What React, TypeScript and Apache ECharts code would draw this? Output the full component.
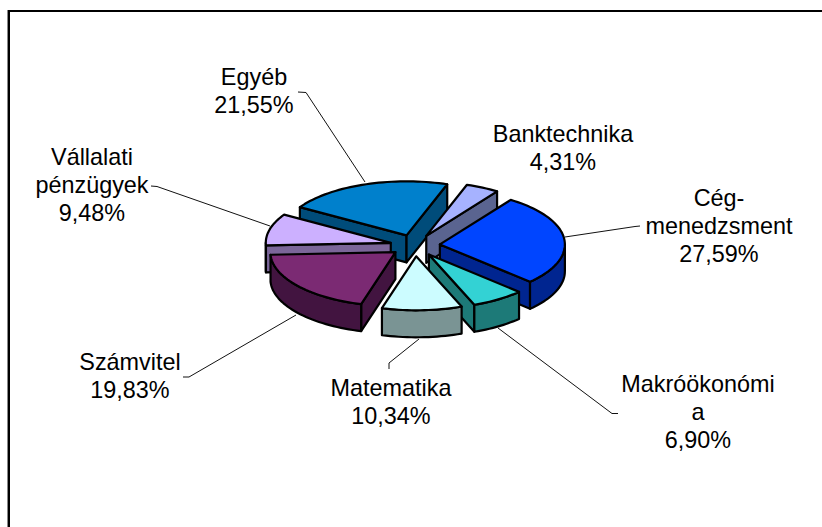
import React, { useEffect, useRef } from "react";
import * as echarts from "echarts";

const categories = ["Banktechnika", "Cég-\nmenedzsment", "Makróökonómi\na", "Matematika", "Számvitel", "Vállalati\npénzügyek", "Egyéb"];
const shares = [4.31, 27.59, 6.9, 10.34, 19.83, 9.48, 21.55];
const topColors = ["#A6B2FF", "#0045FF", "#33D2D4", "#CCFCFF", "#7B2A73", "#CCB0FF", "#0080CC"];
const sideColors = ["#5A6490", "#002590", "#1D7A78", "#7A9494", "#421440", "#7B6699", "#004C7A"];
const paintOrder = [6, 0, 5, 1, 4, 2, 3];
const labelCenters = [[563, 148], [719, 226], [698, 412], [391, 402], [130, 376], [92, 185], [254, 91]];
const leaders = [
  [],
  [[640, 226], [635, 226.5], [565, 237]],
  [[618, 413.5], [612, 413.5], [498, 328]],
  [[389, 369], [389, 363], [419, 339]],
  [[183, 377], [189, 377], [296, 315]],
  [[151, 186], [157, 186.5], [270, 226]],
  [[298, 92], [306, 92.5], [365, 182]],
];

const START_DEG = 19;
const CX = 415;
const CY = 245.5;
const RX = 125;
const RY = 54;
const DEPTH = 27;
const EXPLODE = 25;
const rad = (d: number) => (d * Math.PI) / 180;
const total = shares.reduce((a, b) => a + b, 0);

function sliceAngles(i: number) {
  let a = START_DEG;
  for (let k = 0; k < i; k++) a += (shares[k] / total) * 360;
  return [a, a + (shares[i] / total) * 360];
}

function renderItem(_params: any, api: any) {
  const i = api.value(0) as number;
  const [a0, a1] = sliceAngles(i);
  const mid = (a0 + a1) / 2;
  const ax = CX + EXPLODE * Math.sin(rad(mid));
  const ay = CY - (EXPLODE * RY * Math.cos(rad(mid))) / RX;
  const pt = (deg: number, dy = 0) => [ax + RX * Math.sin(rad(deg)), ay - RY * Math.cos(rad(deg)) + dy];
  const arc = (from: number, to: number, dy = 0) => {
    const n = Math.max(2, Math.ceil(Math.abs(to - from) / 2));
    const out: number[][] = [];
    for (let k = 0; k <= n; k++) out.push(pt(from + ((to - from) * k) / n, dy));
    return out;
  };
  const edge = { stroke: "#000", lineWidth: 2.2, lineJoin: "round" };
  const side = sideColors[i];
  const children: any[] = [];
  const wall = (deg: number) => ({
    type: "polygon",
    shape: { points: [[ax, ay], pt(deg), pt(deg, DEPTH), [ax, ay + DEPTH]] },
    style: { fill: side, ...edge },
  });
  if (Math.sin(rad(a0)) < 0) children.push(wall(a0));
  if (Math.sin(rad(a1)) > 0) children.push(wall(a1));
  const f0 = Math.max(a0, 90);
  const f1 = Math.min(a1, 270);
  if (f1 > f0) {
    children.push({
      type: "polygon",
      shape: { points: [...arc(f0, f1), ...arc(f1, f0, DEPTH)] },
      style: { fill: side, ...edge },
    });
  }
  children.push({
    type: "polygon",
    shape: { points: [[ax, ay], ...arc(a0, a1)] },
    style: { fill: topColors[i], ...edge },
  });
  return { type: "group", children };
}

function renderLabel(_params: any, api: any) {
  const i = api.value(0) as number;
  const children: any[] = [];
  if (leaders[i].length) {
    children.push({
      type: "polyline",
      shape: { points: leaders[i] },
      style: { fill: "none", stroke: "#111", lineWidth: 1 },
    });
  }
  const pct = shares[i].toFixed(2).replace(".", ",") + "%";
  children.push({
    type: "text",
    style: {
      text: categories[i] + "\n" + pct,
      x: labelCenters[i][0],
      y: labelCenters[i][1],
      align: "center",
      verticalAlign: "middle",
      fontFamily: "Liberation Sans",
      fontSize: 23.4,
      lineHeight: 28,
      fill: "#000",
    },
  });
  return { type: "group", children };
}

export default function App() {
  const ref = useRef<HTMLDivElement>(null);
  useEffect(() => {
    const chart = echarts.init(ref.current!, null, { renderer: "svg" });
    chart.setOption({
      animation: false,
      backgroundColor: "#fff",
      graphic: [
        { type: "line", shape: { x1: 8, y1: 11, x2: 822, y2: 11 }, style: { stroke: "#000", lineWidth: 2 } },
        { type: "line", shape: { x1: 9, y1: 10, x2: 9, y2: 527 }, style: { stroke: "#000", lineWidth: 2 } },
        { type: "line", shape: { x1: 7.5, y1: 10, x2: 7.5, y2: 527 }, style: { stroke: "#888", lineWidth: 1 } },
      ],
      series: [
        {
          type: "custom",
          coordinateSystem: "none",
          renderItem: renderLabel,
          silent: true,
          z: 1,
          data: categories.map((_, i) => [i, shares[i]]),
        },
        {
          type: "custom",
          coordinateSystem: "none",
          renderItem,
          silent: true,
          z: 2,
          data: paintOrder.map((i) => [i, shares[i]]),
        },
      ],
    });
    return () => chart.dispose();
  }, []);
  return <div ref={ref} style={{ position: "fixed", left: 0, top: 0, width: 822, height: 527 }} />;
}
